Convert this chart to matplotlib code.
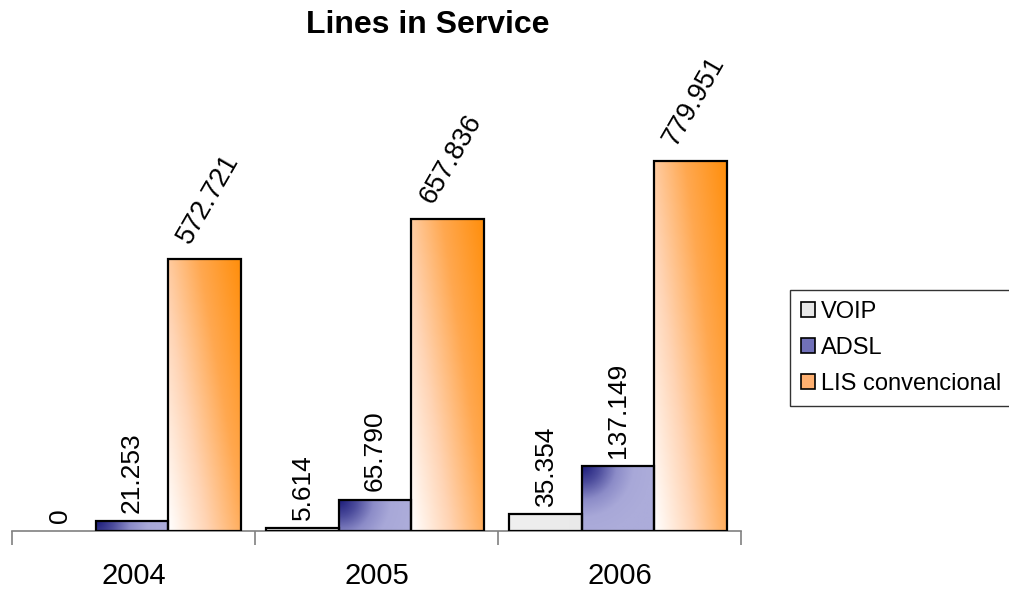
import numpy as np
import matplotlib
matplotlib.use("Agg")
import matplotlib.pyplot as plt
from matplotlib.colors import LinearSegmentedColormap
from matplotlib.patches import Patch

plt.rcParams['font.family'] = ['Liberation Sans', 'DejaVu Sans']

# --- Data ---
years = ["2004", "2005", "2006"]
series_names = ["VOIP", "ADSL", "LIS convencional"]
voip = [0, 5614, 35354]
adsl = [21253, 65790, 137149]
lis = [572721, 657836, 779951]
value_labels = [
    ["0", "5.614", "35.354"],
    ["21.253", "65.790", "137.149"],
    ["572.721", "657.836", "779.951"],
]

# --- Gradients per series ---
cmaps = [
    LinearSegmentedColormap.from_list("voip", ["#f0f0f0", "#e4e4e4"]),
    LinearSegmentedColormap.from_list("adsl", ["#1a1a78", "#4c4c9c", "#8c8cc8", "#a8a8d8", "#acacda"]),
    LinearSegmentedColormap.from_list("lis", ["#ffffff", "#ffd4b4", "#ffa850", "#ff9010"]),
]
legend_colors = ["#e8e8e8", "#7070b8", "#ffb070"]

PX_PER_UNIT = 370 / 779951   # vertical pixels per value
PX_PER_CAT = 243             # horizontal pixels per category


def gradient_array(kind, w_px, h_px, n=80):
    u = np.linspace(0, 1, n)[None, :]          # left -> right
    v = np.linspace(1, 0, n)[:, None]          # top -> bottom (image rows)
    if kind == 0:
        return 0.6 * u + 0 * v
    if kind == 1:
        # distance from top-left corner in pixels, relative to bar width
        d = np.sqrt((u * w_px) ** 2 + ((1 - v) * h_px) ** 2) / w_px
        return np.clip(d * 1.05, 0, 1)
    return np.clip(0.62 * u + 0.4 * v, 0, 1)


fig = plt.figure(figsize=(10.09, 5.90), dpi=100)
ax = fig.add_axes([12 / 1009, 59 / 590, 729 / 1009, 471 / 590])

x = np.arange(len(years)) - 0.006
width = 0.298
ymax = 779951 * 471 / 370

all_series = [voip, adsl, lis]
for i, vals in enumerate(all_series):
    offs = (i - 1) * width
    for j, val in enumerate(vals):
        x0 = x[j] + offs - width / 2
        x1 = x0 + width
        if val > 0:
            grad = gradient_array(i, width * PX_PER_CAT, max(val * PX_PER_UNIT, 1))
            ax.imshow(grad, cmap=cmaps[i], vmin=0, vmax=1,
                      extent=[x0, x1, 0, val], aspect='auto', zorder=2,
                      interpolation='bilinear')
            ax.bar(x[j] + offs, val, width, fill=False, edgecolor='black',
                   linewidth=1.6, zorder=3)
        # value labels
        if i < 2:
            ax.annotate(value_labels[i][j], (x[j] + offs, val),
                        xytext=(0, 6), textcoords='offset points',
                        rotation=90, ha='center', va='bottom', fontsize=19)
        else:
            ax.annotate(value_labels[i][j], (x0, val),
                        xytext=(3, 8), textcoords='offset points',
                        rotation=60, ha='left', va='bottom', fontsize=19.5)

ax.set_xlim(-0.5, 2.5)
ax.set_ylim(0, ymax)

for s in ['top', 'right', 'left']:
    ax.spines[s].set_visible(False)
ax.spines['bottom'].set_color('#808080')
ax.spines['bottom'].set_linewidth(1.2)
ax.set_yticks([])
ax.set_xticks([-0.5, 0.5, 1.5, 2.5])
ax.set_xticklabels([])
ax.set_xticks(np.arange(len(years)), minor=True)
ax.set_xticklabels(years, minor=True, fontsize=21)
ax.tick_params(axis='x', which='major', direction='out', length=10,
               color='#808080', width=1.2)
ax.tick_params(axis='x', which='minor', length=0, pad=22)

fig.text(428 / 1009, 1 - 25 / 590, "Lines in Service", ha='center', va='center',
         fontsize=23, fontweight='bold')

handles = [Patch(facecolor=c, edgecolor='black', linewidth=1.2) for c in legend_colors]
leg = fig.legend(handles, series_names, loc='upper left',
                 bbox_to_anchor=(790 / 1009, 1 - 290 / 590), fontsize=17,
                 frameon=True, fancybox=False, handlelength=0.6, handleheight=0.6,
                 handletextpad=0.25, labelspacing=0.6, borderpad=0.45,
                 borderaxespad=0)
leg.get_frame().set_edgecolor('black')
leg.get_frame().set_linewidth(1.0)

fig.savefig("out.png", dpi=100)
